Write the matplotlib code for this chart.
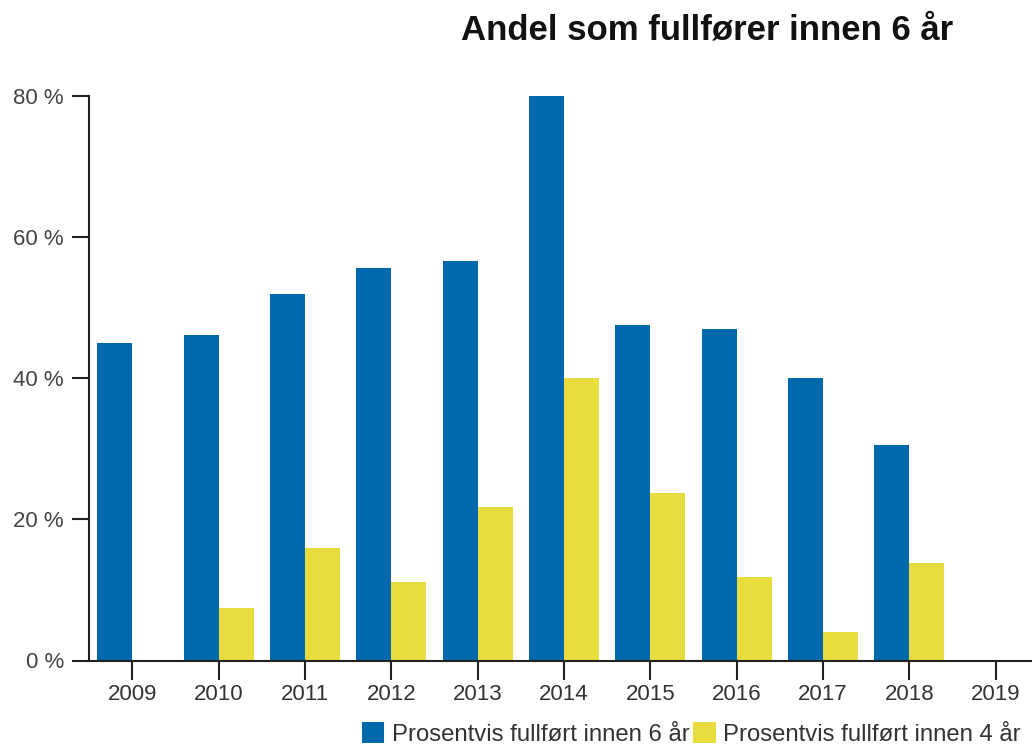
import matplotlib
matplotlib.use("Agg")
import matplotlib.pyplot as plt
import numpy as np

years = ["2009", "2010", "2011", "2012", "2013", "2014", "2015", "2016", "2017", "2018", "2019"]
six_year = [45.0, 46.1, 51.9, 55.6, 56.5, 80.0, 47.5, 46.9, 40.0, 30.5, 0.0]
four_year = [0.0, 7.5, 15.9, 11.1, 21.7, 40.0, 23.7, 11.8, 4.0, 13.8, 0.0]
series_names = ["Prosentvis fullført innen 6 år", "Prosentvis fullført innen 4 år"]
yticks = [0, 20, 40, 60, 80]
title = "Andel som fullfører innen 6 år"

plt.rcParams['font.family'] = ['Liberation Sans', 'DejaVu Sans']

W, H = 1032, 749
fig = plt.figure(figsize=(W / 100, H / 100), dpi=100)
left, right = 89 / W, 1.0
bottom, top = (H - 660.5) / H, (H - 95.5) / H
ax = fig.add_axes([left, bottom, right - left, top - bottom])

blue = "#0069AD"
yellow = "#E8DC3E"
x = np.arange(len(years))
bw = 35 / 86.3
b1 = ax.bar(x - bw / 2, six_year, width=bw, color=blue, label=series_names[0])
b2 = ax.bar(x + bw / 2, four_year, width=bw, color=yellow, label=series_names[1])

ax.set_xlim(-0.5, 10.42)
ax.set_ylim(0, 80)
ax.set_yticks(yticks)
ax.set_yticklabels([f"{v} %" for v in yticks])
ax.set_xticks(x)
ax.set_xticklabels(years)

for s in ["top", "right"]:
    ax.spines[s].set_visible(False)
for s in ["left", "bottom"]:
    ax.spines[s].set_color("#222222")
    ax.spines[s].set_linewidth(1.5)

ax.tick_params(axis="y", length=12, width=1.5, color="#222222", labelsize=16, labelcolor="#444444", pad=6)
ax.tick_params(axis="x", length=14, width=1.5, color="#222222", labelsize=16, labelcolor="#333333", pad=3)

fig.text(707 / W, (H - 30) / H, title, ha="center", va="center", fontsize=25, fontweight="bold", color="#111111")

leg = fig.legend(handles=[b1, b2], labels=series_names, loc="center", bbox_to_anchor=(691 / W, (H - 734) / H),
                 ncol=2, frameon=False, fontsize=17.2, handlelength=0.95, handleheight=0.95, handletextpad=0.3,
                 columnspacing=0.15, labelcolor="#333333", borderpad=0)

fig.savefig("out.png", dpi=100)
